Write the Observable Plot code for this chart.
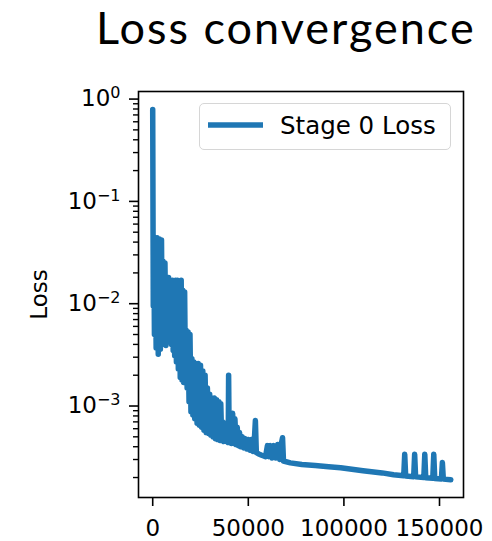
<!DOCTYPE html>
<html>
<head>
<meta charset="utf-8">
<script src="https://cdn.jsdelivr.net/npm/d3@7"></script>
<script src="https://cdn.jsdelivr.net/npm/@observablehq/plot@0.6"></script>
<style>
  html, body { margin: 0; padding: 0; background: #fff; }
  #page { position: relative; width: 492px; height: 541px; overflow: hidden; }
  #title { position: absolute; left: 0; top: 0; width: 492px; height: 60px; }
  #title span { position: absolute; left: 96px; top: 0; height: 55px;
           font-family: Lato, "Open Sans", sans-serif; font-size: 45px; line-height: 55px;
           letter-spacing: 2px; color: #000; white-space: nowrap; }
  #plot { position: absolute; left: 0; top: 60px; }
  #legend { position: absolute; left: 199px; top: 103px; width: 250px; height: 45px;
            border: 1.5px solid #d6d6d6; border-radius: 5px; background: rgba(255,255,255,0.8);
            font-family: "DejaVu Sans", sans-serif; font-size: 24.5px; color: #000; }
  #legend svg { position: absolute; left: 0; top: 0; }
  #legend span { position: absolute; left: 80px; top: 7px; line-height: 30px; white-space: nowrap; }
</style>
</head>
<body>
<div id="page">
  <div id="title"><span>Loss convergence</span></div>
  <div id="plot"></div>
  <div id="legend"><svg width="80" height="45"><line x1="8" x2="63" y1="21" y2="21" stroke="#1f77b4" stroke-width="5.5"/></svg><span>Stage 0 Loss</span></div>
</div>
<script>
// ---- data ----
const steps = [
  0, 300, 600, 900, 1300, 1800, 2300, 2900, 3500, 4000,
  4600, 5000, 5400, 5900, 6400, 6900, 7300, 7800, 8300, 8800,
  9300, 9800, 10300, 10700, 11000, 11500, 12000, 12400, 12900, 13400,
  13900, 14400, 14900, 15300, 15700, 16200, 16700, 17100, 17500, 18000,
  18500, 19000, 19500, 20000, 20500, 21000, 21500, 22000, 22600, 23200,
  23800, 24400, 25000, 25600, 26200, 26800, 27400, 28000, 28600, 29200,
  29800, 30400, 31000, 31600, 32200, 32800, 33400, 34000, 34600, 35200,
  35600, 36100, 36600, 37200, 37800, 38400, 39000, 39500, 39700, 40000,
  40600, 41200, 41800, 42400, 43000, 43600, 44200, 44800, 45400, 46000,
  46800, 47600, 48400, 49200, 50000, 50800, 51600, 52400, 53200, 53700,
  54200, 55500, 57000, 59000, 60000, 60800, 61600, 62400, 63400, 64400,
  65400, 66400, 67400, 67900, 68400, 72000, 78000, 85000, 92000, 98300,
  110000, 120000, 126000, 131300, 131800, 132300, 136500, 137000, 137500, 141800,
  142300, 142800, 146500, 147000, 147500, 151000, 151500, 152000, 155900
];
const losses = [
  0.79, 0.0095, 0.045, 0.0050, 0.043, 0.0037, 0.044, 0.0032, 0.043, 0.0036,
  0.042, 0.0040, 0.026, 0.0041, 0.025, 0.0039, 0.018, 0.0043, 0.018, 0.0046,
  0.017, 0.0040, 0.017, 0.0035, 0.013, 0.0031, 0.017, 0.0027, 0.017, 0.0023,
  0.016, 0.0019, 0.017, 0.0018, 0.0135, 0.0017, 0.0130, 0.0020, 0.0055, 0.0015,
  0.0053, 0.0011, 0.0050, 0.00088, 0.0029, 0.00082, 0.0027, 0.00075, 0.0026, 0.00068,
  0.0026, 0.00065, 0.0025, 0.00062, 0.0022, 0.00058, 0.0020, 0.00055, 0.0015, 0.00054,
  0.0013, 0.00052, 0.0012, 0.00050, 0.0012, 0.00048, 0.00115, 0.00047, 0.00110, 0.00046,
  0.00105, 0.00046, 0.00070, 0.00045, 0.00068, 0.00045, 0.00066, 0.00044, 0.0020, 0.00044,
  0.00065, 0.00043, 0.00085, 0.00043, 0.00075, 0.00042, 0.00062, 0.00041, 0.00055, 0.00040,
  0.00050, 0.00039, 0.00048, 0.00038, 0.00047, 0.00037, 0.00047, 0.00036, 0.00048, 0.00072,
  0.00035, 0.00034, 0.00033, 0.00032, 0.00041, 0.00032, 0.00041, 0.00031, 0.00041, 0.00031,
  0.00042, 0.00030, 0.00044, 0.00049, 0.00029, 0.000278, 0.000268, 0.000262, 0.000255, 0.000249,
  0.000233, 0.000222, 0.000213, 0.000208, 0.000337, 0.000207, 0.000204, 0.000337, 0.000203, 0.000200,
  0.000337, 0.000199, 0.000197, 0.000337, 0.000196, 0.000194, 0.000280, 0.000193, 0.000190
];
const seriesName = "Stage 0 Loss";
const xTicks = [0, 50000, 100000, 150000];
const yMajorTicks = [1, 0.1, 0.01, 0.001];
const yMajorBase = "10";
const yMajorExponents = ["0", "−1", "−2", "−3"];
const yMinorTicks = [
  0.0002, 0.0003, 0.0004, 0.0005, 0.0006, 0.0007, 0.0008, 0.0009,
  0.002, 0.003, 0.004, 0.005, 0.006, 0.007, 0.008, 0.009,
  0.02, 0.03, 0.04, 0.05, 0.06, 0.07, 0.08, 0.09,
  0.2, 0.3, 0.4, 0.5, 0.6, 0.7, 0.8, 0.9
];

const data = steps.map((s, i) => ({step: s, loss: losses[i]}));

const chart = Plot.plot({
  width: 492,
  height: 481,
  marginLeft: 138,
  marginRight: 29,
  marginTop: 31,
  marginBottom: 44,
  style: {fontFamily: "DejaVu Sans", fontSize: "23px", color: "#000", background: "transparent"},
  x: {domain: [-7430, 162550]},
  y: {type: "log", domain: [1.276e-4, 1.186]},
  marks: [
    Plot.line(data, {x: "step", y: "loss", stroke: "#1f77b4", strokeWidth: 5.5,
                     strokeLinejoin: "round", strokeLinecap: "round"}),
    Plot.axisX({ticks: xTicks, tickSize: 9, tickPadding: 13, tickFormat: d => String(d),
                label: null, strokeWidth: 1.6}),
    Plot.axisY({ticks: yMajorTicks, tickSize: 9, tickPadding: 9,
                tickFormat: d => yMajorBase + "^" + yMajorExponents[yMajorTicks.indexOf(d)],
                label: "Loss", labelAnchor: "center", labelArrow: "none", labelOffset: 108,
                strokeWidth: 1.6}),
    Plot.axisY({ticks: yMinorTicks, tickSize: 5, tickFormat: () => "", label: null, strokeWidth: 1.4}),
    Plot.frame({stroke: "#000", strokeWidth: 1.6})
  ]
});

// Render "10^e" tick labels as base + real superscript text
d3.select(chart).selectAll("text").each(function () {
  const t = this.textContent;
  if (t.startsWith(yMajorBase + "^")) {
    const exp = t.slice(yMajorBase.length + 1);
    const sel = d3.select(this);
    sel.text(null);
    sel.append("tspan").text(yMajorBase);
    sel.append("tspan").attr("font-size", "16px").attr("dy", "-0.5em").text(exp);
  }
});
document.getElementById("plot").appendChild(chart);
</script>
</body>
</html>
